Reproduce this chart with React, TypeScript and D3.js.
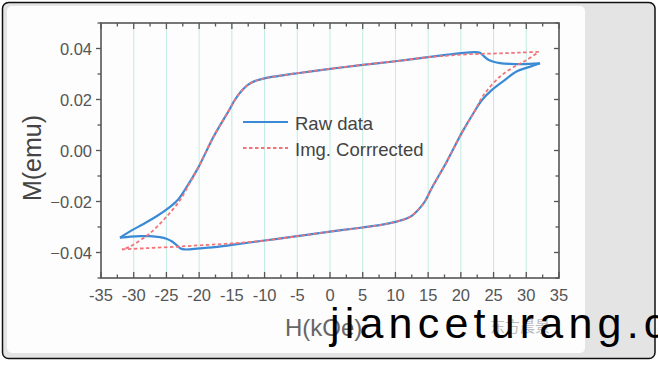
import React, { useEffect, useRef } from "react";
import * as d3 from "d3";

// Raw data, descending field branch (upper)
const rawDownH = [32.1, 30.5, 29, 27.5, 26, 25, 24.2, 23.5, 22.9, 22.2, 20, 18, 15, 10, 5, 0, -5, -8, -10, -11.5, -12.5, -13.5, -14.5, -15.5, -17.8, -20.2, -22.2, -23.2, -24.5, -26.5, -28.5, -30.5, -32.1];
const rawDownM = [0.0342, 0.034, 0.0339, 0.034, 0.0343, 0.0348, 0.0356, 0.037, 0.0383, 0.0386, 0.0382, 0.0376, 0.0366, 0.035, 0.0336, 0.032, 0.0303, 0.0292, 0.0283, 0.0272, 0.0258, 0.0234, 0.02, 0.0155, 0.0054, -0.007, -0.0155, -0.0192, -0.0222, -0.0258, -0.0288, -0.0316, -0.0342];

// Raw data, ascending field branch (lower)
const rawUpH = [-32.1, -30.5, -29, -27.5, -26, -25, -24.2, -23.5, -22.9, -22.2, -20, -18, -15, -10, -5, 0, 5, 8, 10, 11.5, 12.5, 13.5, 14.5, 15.5, 17.8, 20.2, 22.2, 23.2, 24.5, 26.5, 28.5, 30.5, 32.1];
const rawUpM = [-0.0342, -0.0338, -0.0336, -0.0336, -0.034, -0.0346, -0.0356, -0.037, -0.0383, -0.0388, -0.0384, -0.038, -0.037, -0.0353, -0.0336, -0.0318, -0.0302, -0.0291, -0.028, -0.0269, -0.0256, -0.0232, -0.02, -0.015, -0.0046, 0.0072, 0.0158, 0.0197, 0.0232, 0.0272, 0.031, 0.0328, 0.0342];

// Image-corrected curve
const corrDownH = [31.9, 29, 26, 23, 20, 17, 15, 10, 5, 0, -5, -8, -10, -11.5, -12.5, -13.5, -14.5, -15.5, -17.8, -20.2, -21.5, -22.9, -25, -27.5, -30.6, -31.8];
const corrDownM = [0.0387, 0.0384, 0.0381, 0.0379, 0.0376, 0.037, 0.0366, 0.035, 0.0336, 0.032, 0.0303, 0.0292, 0.0283, 0.0272, 0.0258, 0.0234, 0.02, 0.0155, 0.0054, -0.007, -0.013, -0.0194, -0.026, -0.0324, -0.0377, -0.0388];
const corrUpH = [-31.8, -28, -24, -20, -16, -12, -10, -5, 0, 5, 8, 10, 11.5, 12.5, 13.5, 14.5, 15.5, 17.8, 20.2, 21.5, 22.2, 23.4, 26, 28.6, 30.1, 31.9];
const corrUpM = [-0.0388, -0.0383, -0.0378, -0.0372, -0.0366, -0.0358, -0.0353, -0.0336, -0.0318, -0.0302, -0.0291, -0.028, -0.0269, -0.0256, -0.0232, -0.02, -0.015, -0.0046, 0.0072, 0.0128, 0.0159, 0.0215, 0.029, 0.0335, 0.0355, 0.0387];

const xTicks = [-35, -30, -25, -20, -15, -10, -5, 0, 5, 10, 15, 20, 25, 30, 35];
const yTicks = [-0.04, -0.02, 0, 0.02, 0.04];
const gridH = [-30, -25, -20, -15, -10, -5, 0, 5, 10, 15, 20, 25, 30];

const seriesNames = ["Raw data", "Img. Corrrected"];

const App: React.FC = () => {
  const svgRef = useRef<SVGSVGElement | null>(null);

  useEffect(() => {
    if (!svgRef.current) return;
    const width = 658;
    const height = 369;
    const left = 101, right = 559, top = 23, bottom = 278;

    const root = d3.select(svgRef.current);
    root.selectAll("*").remove();
    root.attr("width", width).attr("height", height);

    // screenshot frame
    root.append("rect").attr("x", 2.5).attr("y", 2.5).attr("width", 652.5).attr("height", 356)
      .attr("rx", 6).attr("fill", "#e4e4e4").attr("stroke", "#111").attr("stroke-width", 1.5);
    root.append("rect").attr("x", 7).attr("y", 6).attr("width", 578).attr("height", 347)
      .attr("rx", 5).attr("fill", "#fdfdfd");

    const x = d3.scaleLinear().domain([-35, 35]).range([left, right]);
    const y = d3.scaleLinear().domain([-0.05, 0.05]).range([bottom, top]);

    // vertical grid
    root.append("g").selectAll("line").data(gridH).enter().append("line")
      .attr("x1", (d) => x(d)).attr("x2", (d) => x(d))
      .attr("y1", top).attr("y2", bottom)
      .attr("stroke", "#c2ebe3").attr("stroke-width", 1);

    const axisColor = "#555";
    const minorX = d3.range(-35, 35.1, 2.5);
    const minorY = d3.range(-0.05, 0.0501, 0.01);

    const ticks = root.append("g").attr("stroke", axisColor).attr("stroke-width", 1.3);
    // bottom & top ticks (inward)
    ticks.selectAll(".tb").data(minorX).enter().append("line")
      .attr("x1", (d) => x(d)).attr("x2", (d) => x(d))
      .attr("y1", bottom).attr("y2", (d, i) => bottom - (i % 2 === 0 ? 6 : 3.5));
    ticks.selectAll(".tt").data(minorX).enter().append("line")
      .attr("x1", (d) => x(d)).attr("x2", (d) => x(d))
      .attr("y1", top).attr("y2", (d, i) => top + (i % 2 === 0 ? 6 : 3.5));
    // left ticks (outward), right ticks (inward)
    ticks.selectAll(".tl").data(minorY).enter().append("line")
      .attr("x1", left).attr("x2", (d, i) => left - (i % 2 === 1 ? 5 : 3.5))
      .attr("y1", (d) => y(d)).attr("y2", (d) => y(d));
    ticks.selectAll(".tr").data(minorY).enter().append("line")
      .attr("x1", right).attr("x2", (d, i) => right - (i % 2 === 1 ? 5 : 3.5))
      .attr("y1", (d) => y(d)).attr("y2", (d) => y(d));

    root.append("rect").attr("x", left).attr("y", top).attr("width", right - left).attr("height", bottom - top)
      .attr("fill", "none").attr("stroke", axisColor).attr("stroke-width", 1.6);

    // tick labels
    root.append("g").selectAll("text").data(xTicks).enter().append("text")
      .attr("x", (d) => x(d)).attr("y", 301).attr("text-anchor", "middle")
      .attr("font-family", "Liberation Sans, Arial, sans-serif").attr("font-size", 16.5).attr("fill", "#555")
      .text((d) => String(d));
    root.append("g").selectAll("text").data(yTicks).enter().append("text")
      .attr("x", 92).attr("y", (d) => y(d) + 6).attr("text-anchor", "end")
      .attr("font-family", "Liberation Sans, Arial, sans-serif").attr("font-size", 16.5).attr("fill", "#555")
      .text((d) => d3.format(".2f")(d));

    // axis titles
    root.append("text").attr("transform", "translate(41,158) rotate(-90)").attr("text-anchor", "middle")
      .attr("font-family", "Liberation Sans, Arial, sans-serif").attr("font-size", 25).attr("fill", "#444")
      .text("M(emu)");
    root.append("text").attr("x", 285).attr("y", 336)
      .attr("font-family", "Liberation Sans, Arial, sans-serif").attr("font-size", 24).attr("fill", "#666")
      .text("H(kOe)");

    const line = d3.line<[number, number]>().x((d) => x(d[0])).y((d) => y(d[1])).curve(d3.curveCatmullRom.alpha(0.5));
    const zip = (h: number[], m: number[]) => h.map((v, i) => [v, m[i]] as [number, number]);

    const blue = "#3a8ad6";
    const red = "#f2747a";
    [zip(rawDownH, rawDownM), zip(rawUpH, rawUpM)].forEach((pts) => {
      root.append("path").attr("d", line(pts)!).attr("fill", "none").attr("stroke", blue).attr("stroke-width", 2.2);
    });
    [zip(corrDownH, corrDownM), zip(corrUpH, corrUpM)].forEach((pts) => {
      root.append("path").attr("d", line(pts)!).attr("fill", "none").attr("stroke", red)
        .attr("stroke-width", 1.8).attr("stroke-dasharray", "3.5,2.5");
    });

    // legend
    const lg = root.append("g");
    lg.append("line").attr("x1", 243).attr("x2", 288).attr("y1", 122).attr("y2", 122).attr("stroke", blue).attr("stroke-width", 2.2);
    lg.append("line").attr("x1", 243).attr("x2", 288).attr("y1", 148).attr("y2", 148).attr("stroke", red)
      .attr("stroke-width", 1.8).attr("stroke-dasharray", "3.5,2.5");
    lg.selectAll("text").data(seriesNames).enter().append("text")
      .attr("x", 295).attr("y", (d, i) => 130 + i * 26)
      .attr("font-family", "Liberation Sans, Arial, sans-serif").attr("font-size", 18.5).attr("fill", "#444")
      .text((d) => d);

    // watermarks
    root.append("text").attr("x", 490).attr("y", 332)
      .attr("font-family", "Noto Sans CJK SC, sans-serif").attr("font-size", 15).attr("fill", "#bbb")
      .text("东方晨景");
    root.append("text").attr("x", 330).attr("y", 338)
      .attr("font-family", "Liberation Sans, Arial, sans-serif").attr("font-size", 43).attr("letter-spacing", 5.2)
      .attr("fill", "#000").text("jianceturang.c");
  }, []);

  return <svg ref={svgRef} style={{ position: "absolute", left: 0, top: 0 }}></svg>;
};

export default App;
